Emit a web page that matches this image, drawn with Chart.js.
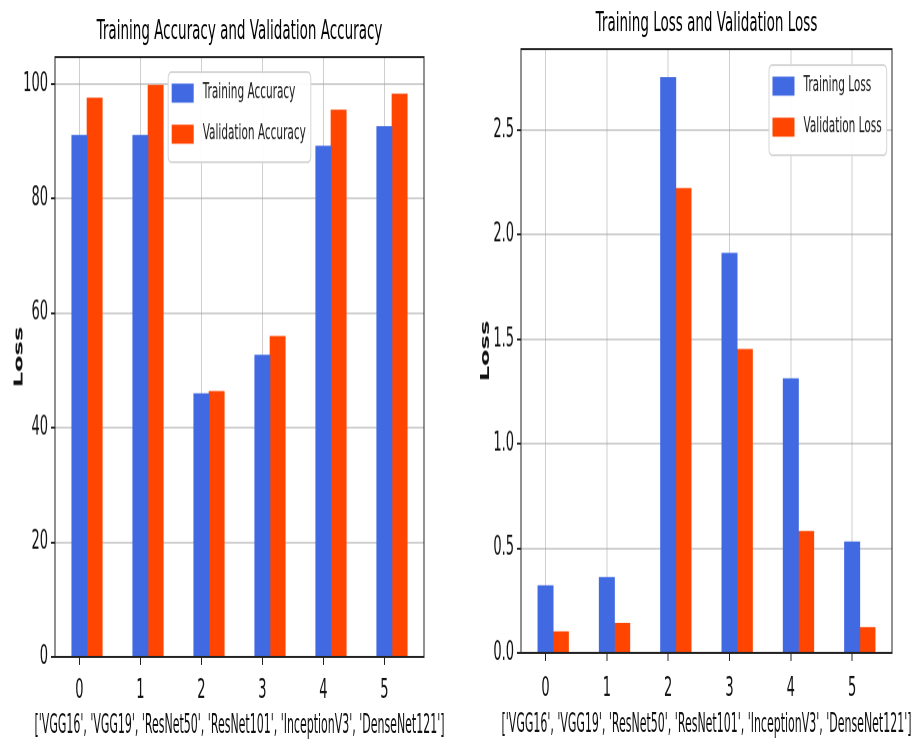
<!DOCTYPE html>
<html>
<head>
<meta charset="utf-8">
<script src="https://cdn.jsdelivr.net/npm/chart.js@4.4.1/dist/chart.umd.min.js"></script>
<style>
  html, body { margin: 0; padding: 0; background: #fff; }
  #stage { width: 917px; height: 745px; display: flex; }
  /* the source picture is the matplotlib figure stretched ~2x vertically:
     the charts are laid out at 372px high and the canvas is shown at 745px */
  canvas { display: block; height: 745px; }
</style>
</head>
<body>
<div id="stage">
  <canvas id="accChart" width="458" height="372" style="width:458px;height:745px"></canvas>
  <canvas id="lossChart" width="459" height="372" style="width:459px;height:745px"></canvas>
</div>
<script>
var models = ['VGG16', 'VGG19', 'ResNet50', 'ResNet101', 'InceptionV3', 'DenseNet121'];
var xTicks = [0, 1, 2, 3, 4, 5];

var trainAcc = [91.0, 91.0, 45.9, 52.6, 89.1, 92.5];
var valAcc   = [97.5, 99.7, 46.3, 55.9, 95.4, 98.2];
var accTicks = [0, 20, 40, 60, 80, 100];

var trainLoss = [0.32, 0.36, 2.75, 1.91, 1.31, 0.53];
var valLoss   = [0.10, 0.14, 2.22, 1.45, 0.58, 0.12];
var lossTicks = [0, 0.5, 1.0, 1.5, 2.0, 2.5];

var blue = '#4169E1';
var red = '#FF4500';
var gridCol = 'rgba(160,160,160,0.5)';
var barW = 0.25;
var xTitle = "['" + models.join("', '") + "']";

Chart.defaults.font.family = '"DejaVu Sans", sans-serif';
Chart.defaults.color = '#111';

// axes box, wide x label (wider than the axes) and a matplotlib style legend
var boxLegend = {
  id: 'boxLegend',
  afterDraw: function(chart, args, opts) {
    var ctx = chart.ctx, a = chart.chartArea;
    var sets = chart.data.datasets;
    ctx.save();
    ctx.strokeStyle = '#222';
    ctx.lineWidth = 1;
    ctx.strokeRect(a.left, a.top, a.right - a.left, a.bottom - a.top);

    ctx.fillStyle = '#111';
    ctx.font = '13.3px "DejaVu Sans"';
    ctx.textAlign = 'center';
    ctx.textBaseline = 'middle';
    ctx.fillText(chart.options.scales.x.title.text, (a.left + a.right) / 2, opts.xTitleY, 410);

    ctx.textAlign = 'left';
    ctx.font = '10.5px "DejaVu Sans"';
    var tw = 0;
    sets.forEach(function(d) { tw = Math.max(tw, ctx.measureText(d.label).width); });
    var rowH = 20.5;
    var w = 3.5 + 22 + 9 + tw + 5;
    var h = 10.5 + rowH * (sets.length - 1) + 14;
    var left = opts.align === 'right' ? a.right - opts.right - w : (a.left + a.right) / 2 - w / 2;
    var top = a.top + opts.top;
    ctx.beginPath();
    ctx.roundRect(left, top, w, h, 3);
    ctx.fillStyle = 'rgba(255,255,255,0.92)';
    ctx.fill();
    ctx.strokeStyle = '#d6d6d6';
    ctx.stroke();
    sets.forEach(function(d, i) {
      var cy = top + 10.5 + i * rowH;
      ctx.fillStyle = d.backgroundColor;
      ctx.fillRect(left + 3.5, cy - 4.75, 22, 9.5);
      ctx.fillStyle = '#1a1a1a';
      ctx.fillText(d.label, left + 3.5 + 22 + 9, cy);
    });
    ctx.restore();
  }
};

function barChart(id, title, labels, train, val, yTicks, fmt, lay) {
  var yMax = Math.max.apply(null, train.concat(val)) * 1.05;
  return new Chart(document.getElementById(id), {
    type: 'bar',
    data: {
      datasets: [
        { label: labels[0], backgroundColor: blue,
          data: train.map(function(v, i) { return { x: xTicks[i], y: v }; }) },
        { label: labels[1], backgroundColor: red,
          data: val.map(function(v, i) { return { x: xTicks[i] + barW, y: v }; }) }
      ]
    },
    options: {
      animation: false,
      responsive: false,
      devicePixelRatio: 2,
      layout: { padding: { left: 0, right: lay.right, top: 0, bottom: 0 } },
      datasets: { bar: { grouped: false, barPercentage: 1, categoryPercentage: 1, borderWidth: 0 } },
      scales: {
        x: {
          type: 'linear', min: -0.4, max: 5.65, offset: false, z: 1,
          afterBuildTicks: function(s) { s.ticks = xTicks.map(function(v) { return { value: v }; }); },
          afterFit: function(s) { s.height = lay.xh; },
          grid: { offset: false, color: gridCol, tickColor: '#222', tickLength: 4 },
          border: { color: '#222', width: 1 },
          ticks: { font: { size: 13 }, color: '#111', padding: lay.tickPad, maxRotation: 0, autoSkip: false },
          // drawn by the plugin: matplotlib lets it run wider than the axes
          title: { display: false, text: xTitle }
        },
        y: {
          min: 0, max: yMax, z: 1,
          afterBuildTicks: function(s) { s.ticks = yTicks.map(function(v) { return { value: v }; }); },
          afterFit: function(s) { s.width = lay.yw; },
          grid: { color: gridCol, tickColor: '#222', tickLength: 4 },
          border: { color: '#222', width: 1 },
          ticks: { font: { size: 13 }, color: '#111', padding: 3, callback: fmt },
          title: { display: true, text: 'Loss', font: { size: 12, weight: 'bold' }, color: '#111',
                   padding: { top: lay.ytPad, bottom: 0 } }
        }
      },
      plugins: {
        legend: { display: false },
        tooltip: { enabled: false },
        title: { display: true, text: title, fullSize: false, font: { size: 13.5, weight: 'normal' }, color: '#000',
                 padding: { top: lay.tTop, bottom: lay.tBot } },
        boxLegend: { align: lay.legAlign, top: lay.legTop, right: lay.legRight, xTitleY: lay.xTitleY }
      }
    },
    plugins: [boxLegend]
  });
}

barChart('accChart', 'Training Accuracy and Validation Accuracy',
  ['Training Accuracy', 'Validation Accuracy'], trainAcc, valAcc, accTicks,
  function(v) { return String(v); },
  { right: 34, xh: 44, yw: 55, tickPad: 5.5, xTitleY: 362.5, ytPad: 12.3, tTop: 8, tBot: 4.3,
    legAlign: 'center', legTop: 7.5, legRight: 0 });

barChart('lossChart', 'Training Loss and Validation Loss',
  ['Training Loss', 'Validation Loss'], trainLoss, valLoss, lossTicks,
  function(v) { return v.toFixed(1); },
  { right: 25, xh: 46, yw: 63, tickPad: 6.5, xTitleY: 362, ytPad: 20.8, tTop: 4, tBot: 4.3,
    legAlign: 'right', legTop: 8, legRight: 5.3 });
</script>
</body>
</html>
